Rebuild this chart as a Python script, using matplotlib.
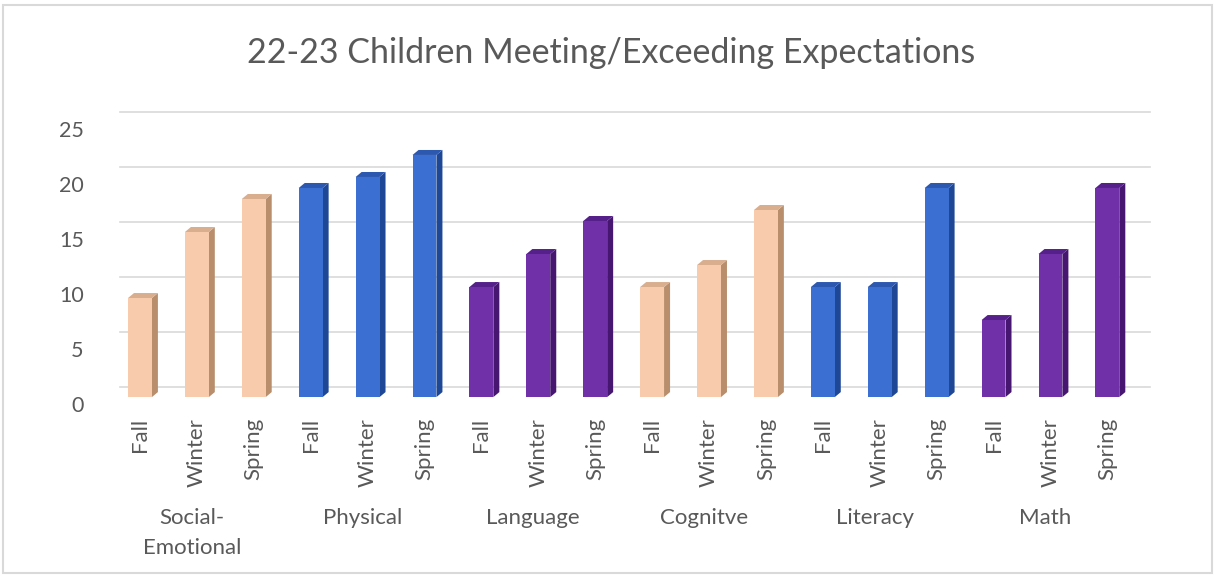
import numpy as np
import matplotlib
matplotlib.use("Agg")
import matplotlib.pyplot as plt
from matplotlib.patches import Polygon, Rectangle
from matplotlib.transforms import ScaledTranslation

plt.rcParams['font.family'] = ['Lato', 'DejaVu Sans']

# Dane
domains = ["Social-\nEmotional", "Physical", "Language", "Cognitve", "Literacy", "Math"]
seasons = ["Fall", "Winter", "Spring"]
values = [9, 15, 18,
          19, 20, 22,
          10, 13, 16,
          10, 12, 17,
          10, 10, 19,
          7, 13, 19]

# kolory: przód, bok, góra
front_cols = ["#F8CBAD", "#3B6FD2", "#7030A8"]
side_cols = ["#B88E6C", "#1E4796", "#461670"]
top_cols = ["#D8AE8E", "#2C58B0", "#55208A"]

txt = "#595959"

fig = plt.figure(figsize=(12.15, 5.78), dpi=100)
ax = fig.add_axes([111.5 / 1215, 0.313, 1030 / 1215, 0.476])

x = np.arange(len(values))
ax.set_xlim(-0.5, 17.6)
ax.set_ylim(0, 25)

# siatka (tylna ściana, przesunięta)
back = ScaledTranslation(8 / 100, 10 / 100, fig.dpi_scale_trans)
for t in range(0, 26, 5):
    ax.plot([0, 1], [t, t], color="#D9D9D9", lw=1.2, zorder=0, clip_on=False,
            transform=ax.get_yaxis_transform() + back)

w = 0.42
p0 = ax.transData.transform((0, 0))
ddx, ddy = ax.transData.inverted().transform(p0 + np.array([6, 5]))

for i, v in enumerate(values):
    g = (i // 3) % 3
    xl, xr = x[i] - w / 2, x[i] + w / 2
    ax.add_patch(Polygon([(xr, 0), (xr + ddx, ddy), (xr + ddx, v + ddy), (xr, v)],
                         closed=True, fc=side_cols[g], ec="none", zorder=2))
    ax.add_patch(Polygon([(xl, v), (xr, v), (xr + ddx, v + ddy), (xl + ddx, v + ddy)],
                         closed=True, fc=top_cols[g], ec="none", zorder=2))
ax.bar(x, values, width=w, color=[front_cols[(i // 3) % 3] for i in x],
       edgecolor="none", zorder=3)

for s in ax.spines.values():
    s.set_visible(False)

ax.set_xticks(x)
ax.set_xticklabels(seasons * len(domains), rotation=90, color=txt, fontsize=16)
ax.tick_params(axis="x", length=0, pad=15)
ax.set_yticks(range(0, 26, 5))
ax.tick_params(axis="y", length=0, pad=20, labelsize=15.5, labelcolor=txt)
for lab in ax.get_yticklabels():
    lab.set_transform(lab.get_transform() + ScaledTranslation(0, -0.07, fig.dpi_scale_trans))

for k, d in enumerate(domains):
    ax.text(3 * k + 1, 0, d, ha="center", va="top", fontsize=16, color=txt,
            linespacing=1.6,
            transform=ax.transData + ScaledTranslation(-0.05, -1.11, fig.dpi_scale_trans))

fig.text(0.503, 0.908, "22-23 Children Meeting/Exceeding Expectations",
         ha="center", va="center", fontsize=24.5, color=txt)

fig.patches.append(Rectangle((3 / 1215, 5 / 578), 1209 / 1215, 568 / 578,
                             transform=fig.transFigure, fill=False,
                             ec="#D9D9D9", lw=1.5))

fig.savefig("out.png", dpi=100, facecolor="white")
